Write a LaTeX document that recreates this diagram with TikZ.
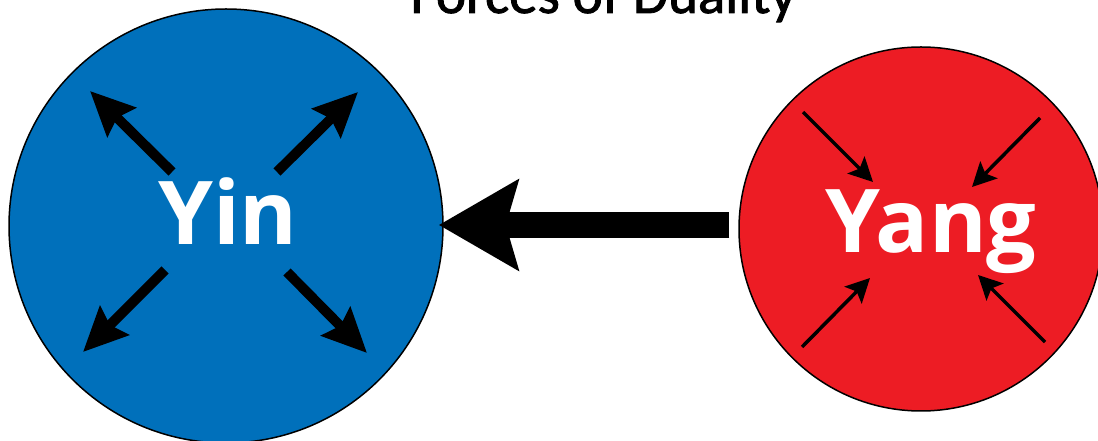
\documentclass[tikz,border=0pt]{standalone}
\usepackage{fontspec}
\setmainfont{Open Sans}
\newfontfamily\titlefont[FakeBold=1.5]{Carlito}
\usetikzlibrary{arrows.meta}
\definecolor{yinblue}{RGB}{0,112,187}
\definecolor{yangred}{RGB}{237,28,36}
\begin{document}
\begin{tikzpicture}[x=1pt,y=1pt,
  ball/.style={circle,draw=black,line width=1.5pt,inner sep=0pt},
  bigtip/.style={-{Stealth[length=44pt,width=40pt,inset=6pt]},line width=10pt},
  smalltip/.style={-{Stealth[length=24pt,width=24pt,inset=5pt]},line width=3.5pt},
  ballname/.style={text=white,font=\fontsize{88}{90}\selectfont\bfseries,inner sep=0pt,anchor=base},
  titletext/.style={font=\titlefont\fontsize{57}{60}\selectfont,inner sep=0pt,anchor=base},
  mainarrow/.style={-{Stealth[length=79pt,width=89pt,inset=12pt]},line width=26pt}
]
\useasboundingbox (0,0) rectangle (1098,441);
\node[titletext] (title) at (603.5,428) {Forces of Duality};
\node[ball,fill=yinblue,minimum size=434pt] (yin) at (226,215) {};
\node[ball,fill=yangred,minimum size=364pt] (yang) at (921,212) {};
\node[ballname] (yint) at (228,196) {Yin};
\node[ballname] (yangt) at (931,188) {Yang};
% Yin outward arrows
\coordinate (a1s) at (172,269); \coordinate (a1e) at (90,350);
\coordinate (a2s) at (277,269); \coordinate (a2e) at (358,349);
\coordinate (a3s) at (165,171); \coordinate (a3e) at (83,89);
\coordinate (a4s) at (287,169); \coordinate (a4e) at (367,88);
\draw[bigtip] (a1s) -- (a1e);
\draw[bigtip] (a2s) -- (a2e);
\draw[bigtip] (a3s) -- (a3e);
\draw[bigtip] (a4s) -- (a4e);
% Yang inward arrows
\coordinate (b1s) at (803,329); \coordinate (b1e) at (873,259);
\coordinate (b2s) at (1040,323); \coordinate (b2e) at (972,254);
\coordinate (b3s) at (802,94); \coordinate (b3e) at (870,163);
\coordinate (b4s) at (1045,99); \coordinate (b4e) at (978,166);
\draw[smalltip] (b1s) -- (b1e);
\draw[smalltip] (b2s) -- (b2e);
\draw[smalltip] (b3s) -- (b3e);
\draw[smalltip] (b4s) -- (b4e);
% main arrow
\draw[mainarrow,shorten <=9pt,shorten >=-5pt] (yang.west |- 0,216) -- (yin.east |- 0,216);
\end{tikzpicture}
\end{document}
